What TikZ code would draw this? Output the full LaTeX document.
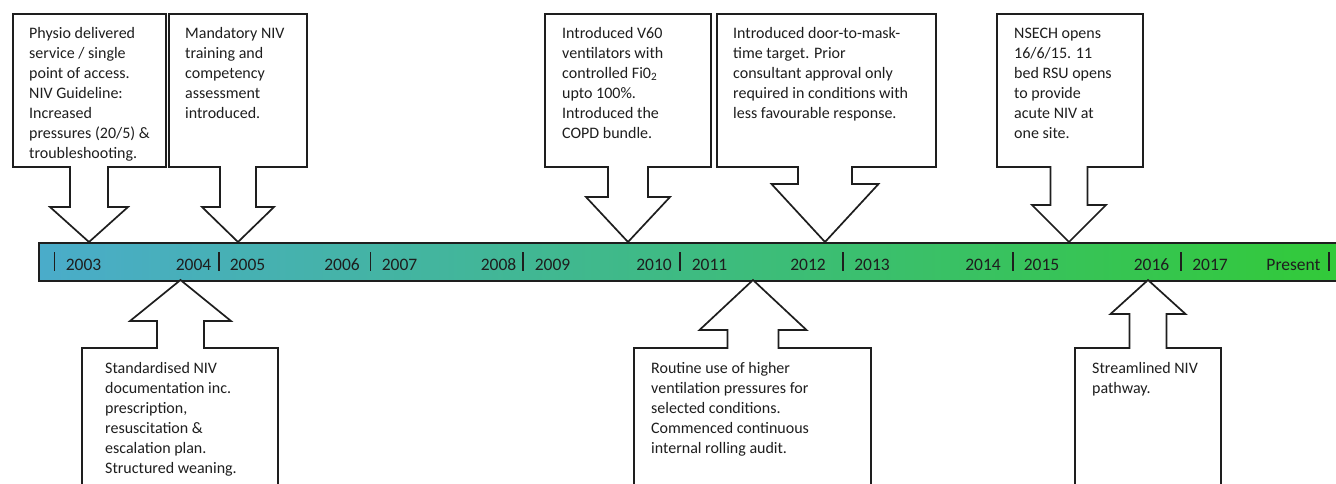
\documentclass[tikz,border=0pt]{standalone}
\usepackage{fontspec}
\setmainfont{Carlito}
\definecolor{barL}{RGB}{74,172,202}
\definecolor{barR}{RGB}{50,202,56}
\definecolor{ink}{RGB}{30,30,30}
\tikzset{
  callout/.style={draw=ink, line width=1.7pt, fill=white, line join=miter},
  txt/.style={anchor=north west, inner sep=0pt, align=left, text=ink,
    font={\fontsize{16}{20}\selectfont}},
  year/.style={anchor=base, inner sep=0pt, text=ink, font={\fontsize{17.5}{20}\selectfont}},
  tickmark/.style={draw=ink, line width=1.2pt},
  bar/.style={draw=ink, line width=1.7pt, anchor=north west, inner sep=0pt,
    left color=barL, right color=barR, minimum height=38pt, minimum width=1310pt}
}
% top callout: L R tipx stemhalf headhalf headbase
\newcommand\tcall[6]{%
  \path[callout] (#1,14) -- (#2,14) -- (#2,167) -- (#3+#4,167) -- (#3+#4,#6)
    -- (#3+#5,#6) -- (#3,242) -- (#3-#5,#6) -- (#3-#4,#6) -- (#3-#4,167)
    -- (#1,167) -- cycle;}
% bottom callout: L R tipx stemhalf headhalf headbase
\newcommand\bcall[6]{%
  \path[callout] (#1,495) -- (#1,348) -- (#3-#4,348) -- (#3-#4,#6) -- (#3-#5,#6)
    -- (#3,280) -- (#3+#5,#6) -- (#3+#4,#6) -- (#3+#4,348) -- (#2,348)
    -- (#2,495) -- cycle;}
\begin{document}
\begin{tikzpicture}[x=1pt,y=-1pt]
\useasboundingbox (0,0) rectangle (1336,483);
\clip (0,0) rectangle (1336,483);
\fill[white] (0,0) rectangle (1336,483);

% timeline bar
\node[bar] (bar) at (38,242) {};
\foreach \x in {54.5,219,370.5,523,680,843,1013,1181,1329}
  \draw[tickmark] (\x,252) -- (\x,271);
\node[year] (y2003) at (83.5,270) {2003};
\node[year] (y2004) at (193.5,270) {2004};
\node[year] (y2005) at (247.5,270) {2005};
\node[year] (y2006) at (342,270) {2006};
\node[year] (y2007) at (399.5,270) {2007};
\node[year] (y2008) at (498.5,270) {2008};
\node[year] (y2009) at (552.5,270) {2009};
\node[year] (y2010) at (654,270) {2010};
\node[year] (y2011) at (709.5,270) {2011};
\node[year] (y2012) at (808,270) {2012};
\node[year] (y2013) at (872,270) {2013};
\node[year] (y2014) at (983,270) {2014};
\node[year] (y2015) at (1041.5,270) {2015};
\node[year] (y2016) at (1151.5,270) {2016};
\node[year] (y2017) at (1210,270) {2017};
\node[year] (ypres) at (1293.5,270) {Present};

% top callouts
\tcall{13}{166}{89}{19}{39}{207}
\tcall{169}{307}{238}{18}{36}{207}
\tcall{545}{711}{628}{20}{42}{197}
\tcall{717}{936}{825}{27}{53.5}{184}
\tcall{997}{1143}{1069}{18.5}{37}{205}

% bottom callouts
\bcall{82}{278}{180.5}{23.5}{50.5}{321}
\bcall{634}{871}{753}{25.5}{53.5}{330}
\bcall{1075}{1221}{1148}{18.5}{37.5}{314}

% texts
\node[txt] (t1) at (29,24) {\strut Physio delivered\\service / single\\point of access.\\NIV Guideline:\\Increased\\pressures (20/5) \&\\troubleshooting.};
\node[txt] (t2) at (185,24) {\strut Mandatory NIV\\training and\\competency\\assessment\\introduced.};
\node[txt] (t3) at (562,24) {\strut Introduced V60\\ventilators with\\controlled Fi0\textsubscript{2}\\upto 100\%.\\Introduced the\\COPD bundle.};
\node[txt] (t4) at (733,24) {\strut Introduced door-to-mask-\\time target. Prior\\consultant approval only\\required in conditions with\\less favourable response.};
\node[txt] (t5) at (1014,24) {\strut NSECH opens\\16/6/15. 11\\bed RSU opens\\to provide\\acute NIV at\\one site.};
\node[txt] (b1) at (105,359) {\strut Standardised NIV\\documentation inc.\\prescription,\\resuscitation \&\\escalation plan.\\Structured weaning.};
\node[txt] (b2) at (651,359) {\strut Routine use of higher\\ventilation pressures for\\selected conditions.\\Commenced continuous\\internal rolling audit.};
\node[txt] (b3) at (1092,359) {\strut Streamlined NIV\\pathway.};
\end{tikzpicture}
\end{document}
